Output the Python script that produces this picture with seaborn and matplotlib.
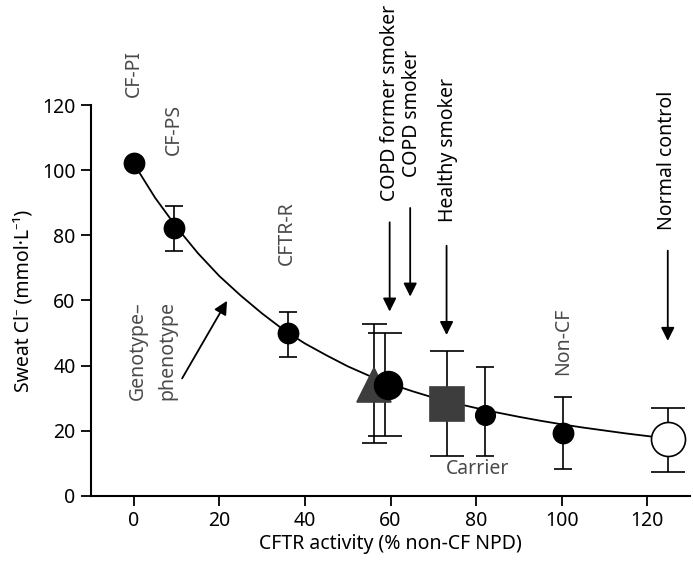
import numpy as np
import pandas as pd
import matplotlib
matplotlib.use("Agg")
import matplotlib.pyplot as plt
import seaborn as sns

# --- Data ---
curve_x = [0, 5, 10, 15, 20, 25, 30, 35, 40, 45, 50, 55, 60, 65, 70, 75,
           80, 85, 90, 95, 100, 105, 110, 115, 120, 125]
curve_y = [102, 91.5, 82.5, 74.5, 67.5, 61.5, 56, 51, 46.8, 43.2, 39.8, 36.9,
           34.4, 32.2, 30.2, 28.5, 27, 25.6, 24.3, 23.1, 22, 21, 20.1, 19.2,
           18.4, 17.6]

groups = ["CF-PI", "CF-PS", "CFTR-R", "COPD former smoker", "COPD smoker",
          "Healthy smoker", "Carrier", "Non-CF", "Normal control"]
activity = [0, 9.5, 36, 56.2, 59.5, 73.1, 82.2, 100.3, 124.8]
sweat_cl = [102.3, 82.4, 49.9, 34.2, 34.2, 28.3, 25, 19.4, 17.5]
err_low = [102.3, 75.3, 42.6, 16.3, 18.5, 12.2, 12.2, 8.3, 7.3]
err_high = [102.3, 89.0, 56.4, 52.9, 49.9, 44.4, 39.5, 30.5, 27.1]
err_x = [0, 9.5, 36, 56.2, 58.8, 73.1, 82.2, 100.3, 124.8]

sns.set_theme(style="ticks")
plt.rcParams["font.family"] = ["Noto Sans", "DejaVu Sans"]

FS = 14

fig = plt.figure(figsize=(6.93, 5.64), dpi=100)
ax = fig.add_axes([0.1313, 0.1206, 0.8644, 0.6932])

# fitted curve
sns.lineplot(x=curve_x, y=curve_y, ax=ax, color="black", lw=1.3, zorder=2)

# marker styles per group
styles = {
    "CF-PI": dict(marker="o", ms=14.5, mfc="black", cap=0),
    "CF-PS": dict(marker="o", ms=14.5, mfc="black", cap=6.5),
    "CFTR-R": dict(marker="o", ms=14.5, mfc="black", cap=6.5),
    "COPD former smoker": dict(marker="^", ms=24, mfc="#3d3d3d", cap=9),
    "COPD smoker": dict(marker="o", ms=20, mfc="black", cap=12),
    "Healthy smoker": dict(marker="s", ms=24, mfc="#3d3d3d", cap=12),
    "Carrier": dict(marker="o", ms=14, mfc="black", cap=6.5),
    "Non-CF": dict(marker="o", ms=14.5, mfc="black", cap=6.5),
    "Normal control": dict(marker="o", ms=24.5, mfc="white", cap=12.5),
}

for i, g in enumerate(groups):
    st = styles[g]
    if st["cap"] > 0:
        ax.errorbar(err_x[i], sweat_cl[i],
                    yerr=[[sweat_cl[i] - err_low[i]], [err_high[i] - sweat_cl[i]]],
                    fmt="none", ecolor="black", elinewidth=1.2,
                    capsize=st["cap"], capthick=1.2, zorder=3)

for i, g in enumerate(groups):
    st = styles[g]
    ax.plot(activity[i], sweat_cl[i], marker=st["marker"], ms=st["ms"],
            mfc=st["mfc"], mec="black" if st["mfc"] != "#3d3d3d" else "#3d3d3d",
            mew=1.2, ls="none", zorder=4 + (1 if g == "COPD smoker" else 0),
            clip_on=False)

ax.set_xlim(-10, 130)
ax.set_ylim(0, 120)
ax.set_xticks([0, 20, 40, 60, 80, 100, 120])
ax.set_yticks([0, 20, 40, 60, 80, 100, 120])
ax.tick_params(axis="both", labelsize=FS, length=7, width=1.3, color="black",
               labelcolor="black", pad=4)
for side in ["left", "bottom"]:
    ax.spines[side].set_linewidth(1.5)
    ax.spines[side].set_color("black")
sns.despine(ax=ax)

ax.set_xlabel("CFTR activity (% non-CF NPD)", fontsize=FS, color="black", labelpad=2)
ax.set_ylabel("Sweat Cl\u207b (mmol\u00b7L\u207b\u00b9)", fontsize=FS, color="black",
              labelpad=6)

gray = "#4a4a4a"
# rotated group labels (bottom anchored)
rot_labels = [
    ("CF-PI", 0, 122.5, gray),
    ("CF-PS", 9.4, 104.6, gray),
    ("CFTR-R", 35.8, 70.9, gray),
    ("Non-CF", 100.3, 37.1, gray),
    ("COPD former smoker", 59.9, 90.4, "black"),
    ("COPD smoker", 65.0, 98.0, "black"),
    ("Healthy smoker", 73.5, 84.2, "black"),
    ("Normal control", 124.7, 81.6, "black"),
]
for txt, x, y, c in rot_labels:
    ax.text(x, y, txt, rotation=90, ha="center", va="bottom", fontsize=FS,
            color=c, clip_on=False)

ax.text(80.3, 8.3, "Carrier", ha="center", va="center", fontsize=FS, color=gray)
ax.text(0.9, 29.5, "Genotype\u2013", rotation=90, ha="center", va="bottom",
        fontsize=FS, color=gray)
ax.text(7.9, 29.5, "phenotype", rotation=90, ha="center", va="bottom",
        fontsize=FS, color=gray)

# arrows
arrows = [
    (59.8, 84.0, 59.8, 56.6),
    (64.6, 88.4, 64.6, 61.2),
    (73.1, 76.8, 73.1, 49.4),
    (124.8, 75.3, 124.8, 47.6),
    (11.3, 36.1, 21.8, 59.9),
]
for x0, y0, x1, y1 in arrows:
    ax.annotate("", xy=(x1, y1), xytext=(x0, y0),
                arrowprops=dict(arrowstyle="-|>", color="black", lw=1.3,
                                mutation_scale=20, shrinkA=0, shrinkB=0),
                annotation_clip=False)

fig.savefig("out.png", dpi=100)
